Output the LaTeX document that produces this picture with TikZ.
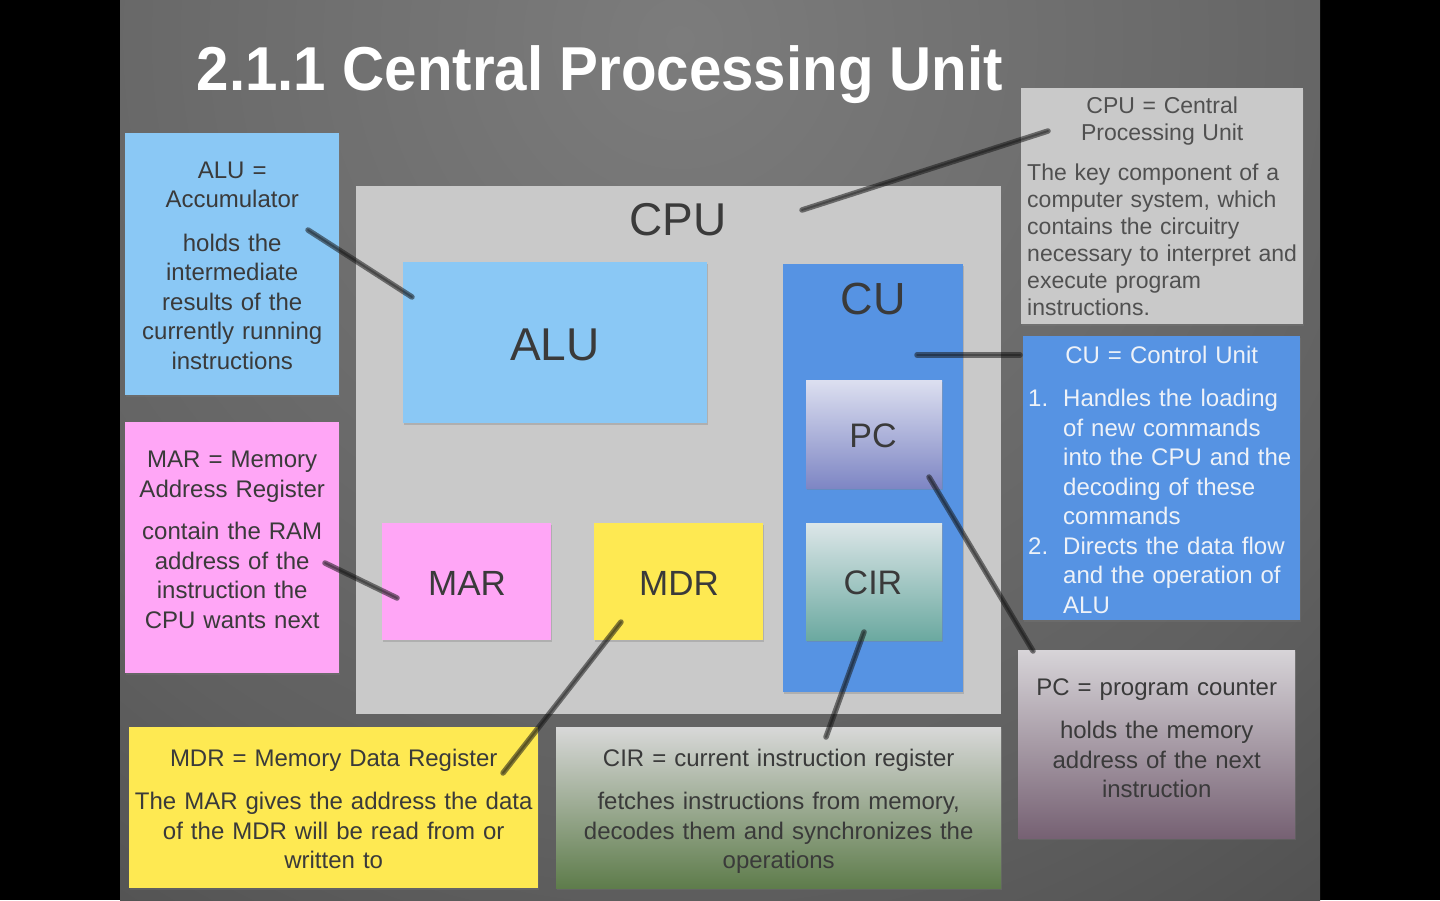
\documentclass[tikz,border=0pt]{standalone}
\usepackage{fontspec}
\setmainfont{Liberation Sans}
\usetikzlibrary{shadows,calc}
\definecolor{bgA}{HTML}{7C7C7C}
\definecolor{bgB}{HTML}{606060}
\definecolor{bgC}{HTML}{3E3E3E}
\definecolor{bgD}{HTML}{2C2C2C}
\pgfdeclareradialshading{bgshade}{\pgfpoint{0bp}{0bp}}{color(0bp)=(bgA); color(10bp)=(bgB); color(18bp)=(bgC); color(25bp)=(bgD); color(50bp)=(bgD)}
\definecolor{lblue}{HTML}{8AC8F5}
\definecolor{lpink}{HTML}{FFA6F6}
\definecolor{lyellow}{HTML}{FEE952}
\definecolor{cublue}{HTML}{5693E3}
\definecolor{cpugray}{HTML}{C9C9C9}
\definecolor{txtdark}{HTML}{3A3A3A}
\definecolor{txtmid}{HTML}{505050}
\definecolor{txtlight}{HTML}{EEF2F8}
\definecolor{pcTop}{HTML}{DCDFF0}
\definecolor{pcBot}{HTML}{7E86C4}
\definecolor{cirTop}{HTML}{DCE6E8}
\definecolor{cirBot}{HTML}{6BA9A0}
\definecolor{pnTop}{HTML}{D7D4D8}
\definecolor{pnBot}{HTML}{766173}
\definecolor{cnTop}{HTML}{D8D8D8}
\definecolor{cnBot}{HTML}{5E7C4B}
\newcommand\mynotefont{\fontsize{24}{29.5}\selectfont}
\newcommand\mycpufont{\fontsize{23}{27}\selectfont}
\begin{document}
\begin{tikzpicture}[x=1pt,y=-1pt,
  boxstyle/.style={anchor=north west, inner sep=0pt, draw=none},
  notebox/.style={boxstyle, drop shadow={shadow xshift=1pt, shadow yshift=-2pt, opacity=.25}},
  notetext/.style={inner sep=0pt, align=center, text=txtdark, font=\mynotefont},
  inbox/.style={boxstyle, drop shadow={shadow xshift=1pt, shadow yshift=-2pt, opacity=.35}},
  biglabel/.style={inner sep=0pt, text=txtdark},
  pencil/.style={draw=black!90, line width=5.5pt, line cap=round, opacity=.55},
  pencilcore/.style={draw=black, line width=2pt, line cap=round, opacity=.3}
]
\useasboundingbox (0,0) rectangle (1440,900);
\fill[black] (0,0) rectangle (1440,900);
\begin{scope}
  \clip (120,0) rectangle (1320,900);
  \shade[shading=bgshade] (680,40) circle (2000);
\end{scope}

% title
\node[anchor=base, text=white, inner sep=0pt] (title) at (600,90)
  {\scalebox{0.94}[1]{\fontsize{62}{62}\selectfont\bfseries 2.1.1 Central Processing Unit}};

% CPU box and contents
\node[boxstyle, fill=cpugray, minimum width=645pt, minimum height=528pt] (cpu) at (356,186) {};
\node[biglabel, font=\fontsize{46}{46}\selectfont] (cpulabel) at (678,220) {CPU};
\node[inbox, fill=lblue, minimum width=304pt, minimum height=161pt] (alu) at (403,262) {};
\node[biglabel, font=\fontsize{46}{46}\selectfont] (alulabel) at (555,345) {ALU};
\node[inbox, fill=cublue, minimum width=180pt, minimum height=428pt] (cu) at (783,264) {};
\node[biglabel, font=\fontsize{45}{45}\selectfont] (culabel) at (873,299) {CU};
\node[inbox, top color=pcTop, bottom color=pcBot, minimum width=136pt, minimum height=108pt] (pc) at (806,380) {};
\node[biglabel, font=\fontsize{34}{34}\selectfont] (pclabel) at (873,436) {PC};
\node[inbox, top color=cirTop, bottom color=cirBot, minimum width=136pt, minimum height=117pt] (cir) at (806,523) {};
\node[biglabel, font=\fontsize{34}{34}\selectfont] (cirlabel) at (873,583) {CIR};
\node[inbox, fill=lpink, minimum width=169pt, minimum height=117pt] (mar) at (382,523) {};
\node[biglabel, font=\fontsize{35}{35}\selectfont] (marlabel) at (467,583) {MAR};
\node[inbox, fill=lyellow, minimum width=169pt, minimum height=117pt] (mdr) at (594,523) {};
\node[biglabel, font=\fontsize{35}{35}\selectfont] (mdrlabel) at (679,583) {MDR};

% note boxes
\node[notebox, fill=lblue, minimum width=214pt, minimum height=262pt] (alunote) at (125,133) {};
\node[notebox, fill=lpink, minimum width=214pt, minimum height=251pt] (marnote) at (125,422) {};
\node[notebox, fill=cpugray, minimum width=282pt, minimum height=236pt] (cpunote) at (1021,88) {};
\node[notebox, fill=cublue, minimum width=277pt, minimum height=284pt] (cunote) at (1023,336) {};
\node[notebox, top color=pnTop, bottom color=pnBot, minimum width=277pt, minimum height=188pt] (pcnote) at (1018,650) {};
\node[notebox, fill=lyellow, minimum width=409pt, minimum height=161pt] (mdrnote) at (129,727) {};
\node[notebox, top color=cnTop, bottom color=cnBot, minimum width=445pt, minimum height=161pt] (cirnote) at (556,727) {};

% note texts
\node[notetext, text width=214pt] (alunotetxt) at ([yshift=-1.5pt]alunote.center)
  {ALU =\\Accumulator\\[14pt]holds the\\intermediate\\results of the\\currently running\\instructions};
\node[notetext, text width=214pt] (marnotetxt) at ([yshift=8pt]marnote.center)
  {MAR = Memory\\Address Register\\[13pt]contain the RAM\\address of the\\instruction the\\CPU wants next};
\node[notetext, text=txtmid, align=left, text width=270pt, font=\mycpufont] (cpunotetxt) at (cpunote.center)
  {{\centering CPU = Central\\Processing Unit\par}\vspace{13pt}The key component of a\\computer system, which\\contains the circuitry\\necessary to interpret and\\execute program\\instructions.};
\node[notetext, text=txtlight, align=left, text width=267pt] (cunotetxt) at ([yshift=-1.5pt]cunote.center)
  {{\centering CU = Control Unit\par}\vspace{14pt}\makebox[35pt][l]{1.}Handles the loading\\\hspace*{35pt}of new commands\\\hspace*{35pt}into the CPU and the\\\hspace*{35pt}decoding of these\\\hspace*{35pt}commands\\\makebox[35pt][l]{2.}Directs the data flow\\\hspace*{35pt}and the operation of\\\hspace*{35pt}ALU};
\node[notetext, text width=277pt] (pcnotetxt) at ([yshift=6pt]pcnote.center)
  {PC = program counter\\[14pt]holds the memory\\address of the next\\instruction};
\node[notetext, text width=409pt] (mdrnotetxt) at ([yshift=-1pt]mdrnote.center)
  {MDR = Memory Data Register\\[14pt]The MAR gives the address the data\\of the MDR will be read from or\\written to};
\node[notetext, text width=445pt] (cirnotetxt) at ([yshift=-3.5pt]cirnote.center)
  {CIR = current instruction register\\[14pt]fetches instructions from memory,\\decodes them and synchronizes the\\operations};

% connector end points
\coordinate (c1a) at ($(alunote.north west)+(183,97)$);
\coordinate (c1b) at ($(alu.north west)+(9,35)$);
\coordinate (c2a) at ($(cpunote.north west)+(27,43)$);
\coordinate (c2b) at ($(cpu.north west)+(446,24)$);
\coordinate (c3a) at ($(cunote.north west)+(-3,19)$);
\coordinate (c3b) at ($(cu.north west)+(134,91)$);
\coordinate (c4a) at ($(pcnote.north west)+(15,1)$);
\coordinate (c4b) at ($(pc.north west)+(123,97)$);
\coordinate (c5a) at ($(cirnote.north west)+(270,10)$);
\coordinate (c5b) at ($(cir.north west)+(58,109)$);
\coordinate (c6a) at ($(mdrnote.north west)+(374,46)$);
\coordinate (c6b) at ($(mdr.north west)+(27,99)$);
\coordinate (c7a) at ($(marnote.north west)+(200,141)$);
\coordinate (c7b) at ($(mar.north west)+(15,75)$);

\foreach \a/\b in {c1a/c1b, c2a/c2b, c3a/c3b, c4a/c4b, c5a/c5b, c6a/c6b, c7a/c7b}{
  \draw[pencil] (\a) -- (\b);
  \draw[pencilcore] (\a) -- (\b);
}
\end{tikzpicture}
\end{document}
